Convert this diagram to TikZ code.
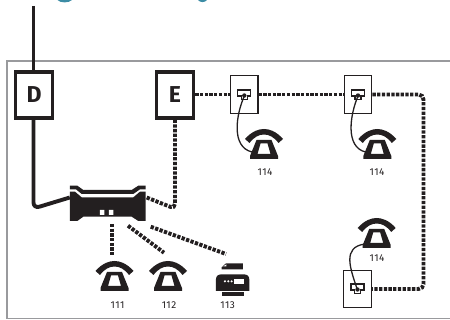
\documentclass[tikz,border=0pt]{standalone}
\usepackage{fontspec}
\setmainfont{Fira Sans}
\definecolor{frameg}{HTML}{999A9D}
\definecolor{ink}{HTML}{231F20}
\definecolor{teal}{HTML}{3C8CA5}
\tikzset{
  boxnode/.style={draw=ink,fill=white,line width=3.2pt,minimum width=37.5pt,minimum height=46pt,inner sep=0pt,font=\bfseries\fontsize{23}{23}\selectfont,text=ink},
  jacknode/.style={draw=ink,fill=white,line width=1.4pt,minimum width=27.5pt,minimum height=37.5pt,inner sep=0pt},
  solidline/.style={draw=ink,line width=3.9pt},
  dotline/.style={draw=ink,line width=3.9pt,dash pattern=on 3.3pt off 1.4pt},
  cordline/.style={draw=ink,line width=1.3pt},
  numlabel/.style={font=\fontsize{10}{10}\selectfont\addfontfeatures{LetterSpace=5},text=ink,inner sep=0pt},
  zoomed/.style={shift={(0,160)},x=0.3333pt,y=-0.3333pt}
}
\newcommand{\phoneicon}[3]{%
  \coordinate (#1) at (#2,#3);
  \begin{scope}[shift={(#2,#3)}]
    \fill[ink] (-19,10) .. controls (-12,2) and (-5,0) .. (0,0) .. controls (5,0) and (12,2) .. (19,10) -- (14.5,14) .. controls (10,8) and (5,5.5) .. (0,5.5) .. controls (-5,5.5) and (-10,8) .. (-14.5,14) -- cycle;
    \fill[ink,even odd rule] (-7.5,11) -- (7.5,11) -- (14,27) -- (14,30) -- (-14,30) -- (-14,27) -- cycle
      (-3.5,14.5) -- (3.5,14.5) -- (6.5,25) -- (-6.5,25) -- cycle;
  \end{scope}}
\newcommand{\socketicon}[2]{%
  \begin{scope}[shift={(#1,#2)}]
    \draw[ink,line width=1.1pt,fill=white] (-6.5,-4.5) -- (6.5,-4.5) -- (6.5,1.5) -- (3,1.5) -- (3,5) -- (-3,5) -- (-3,1.5) -- (-6.5,1.5) -- cycle;
    \fill[ink] (0,1) circle (2.2);
  \end{scope}}
\begin{document}
\begin{tikzpicture}[x=1pt,y=-1pt]
\useasboundingbox (0,0) rectangle (450,320);
\clip (0,0) rectangle (450,320);
% clipped heading remnants
\fill[teal] (57.5,0) .. controls (60,3.2) and (69,3.2) .. (72,0) -- cycle;
\fill[teal] (198,0) .. controls (200,2.8) and (205,2.8) .. (207,0) -- cycle;
% frame
\draw[frameg,line width=1.8pt] (455,61) -- (7,61) -- (7,318.5) -- (455,318.5);
% nodes
\node[boxnode] (D) at (34,95) {D};
\node[boxnode] (E) at (175,95) {E};
\node[jacknode] (J1) at (244.2,94.5) {};
\node[jacknode] (J2) at (358,94.5) {};
\node[jacknode] (J3) at (357.5,289) {};
\node[inner sep=0pt,minimum width=76pt,minimum height=36pt] (modem) at (108,203) {};
\coordinate (top) at (33.5,6);
\coordinate (m1) at (112,224);
\coordinate (p1) at (112,256);
\coordinate (m2) at (128,225.7);
\coordinate (p2) at (164,252.7);
\coordinate (m3) at (150.7,226.7);
\coordinate (fax) at (226,254);
% solid lines
\draw[solidline] (top) -- (top |- D.north);
\draw[solidline,rounded corners=6pt] (D.south -| top) -- (33.5,208.5) -- ([yshift=5.5pt]modem.west);
% dotted lines
\draw[dotline,rounded corners=5pt] (E.south) -- (175,208.7) -- ([yshift=5.7pt]modem.east);
\draw[dotline] (E.east |- J1.west) -- (J1.west);
\draw[dotline] (J1.east) -- (J2.west);
\draw[dotline,rounded corners=5pt] (J2.east) -- (423.5,94.5) -- (423.5,289) -- (J3.east);
\draw[dotline] (m1) -- (p1);
\draw[dotline] (m2) -- (p2);
\draw[dotline] (m3) -- (fax);
% modem
\begin{scope}[zoomed]
  \fill[ink] (210,77) -- (232,77) -- (250,90) -- (395,90) -- (415,77) -- (437,77) -- (437,88) -- (420,88) -- (400,102) -- (245,102) -- (228,88) -- (210,88) -- cycle;
  \fill[ink] (210,95) -- (225,95) -- (245,112) -- (400,112) -- (420,95) -- (437,95) -- (437,183) -- (415,183) -- (395,170) -- (250,170) -- (232,183) -- (210,183) -- cycle;
  \fill[white] (300,150) rectangle (313,165) (327,150) rectangle (340,165);
\end{scope}
% fax
\begin{scope}[zoomed]
  \fill[ink] (665,322) -- (678,310) -- (729,310) -- (729,328) -- (665,328) -- cycle;
  \fill[white] (670,319) -- (679,319) -- (679,313) -- cycle;
  \fill[ink] (648,393) -- (648,358) .. controls (648,348) and (655,343) .. (665,343) -- (731,343) .. controls (741,343) and (748,348) .. (748,358) -- (748,393) -- cycle;
  \fill[white] (701,358) rectangle (733,372);
  \fill[white] (675,364) circle (3.5) (685,364) circle (3.5) (695,364) circle (3.5);
  \fill[ink] (666,397) rectangle (732,407);
\end{scope}
% phones and sockets
\phoneicon{P111}{114.5}{261}
\phoneicon{P112}{168}{261}
\phoneicon{P114a}{264}{129}
\phoneicon{P114b}{377.3}{129}
\phoneicon{P114c}{376.7}{218}
\socketicon{244.3}{94.5}
\socketicon{358}{94.5}
\socketicon{357.5}{288.5}
\coordinate (C1) at (244.3,96);
\coordinate (C2) at (358,96);
\coordinate (C3) at (357.5,290);
\coordinate (H1) at (252,152);
\coordinate (H2) at (365.5,152);
\coordinate (H3) at (365,244);
\draw[cordline] (C1) .. controls (236,115) and (231,147) .. (H1);
\draw[cordline] (C2) .. controls (350,115) and (345,147) .. (H2);
\draw[cordline] (C3) .. controls (350,268) and (342,247) .. (H3);
% labels
\node[numlabel] (L111) at (117.5,305) {111};
\node[numlabel] (L112) at (169,305) {112};
\node[numlabel] (L113) at (227.7,305) {113};
\node[numlabel] (L114a) at (265,172) {114};
\node[numlabel] (L114b) at (377,172) {114};
\node[numlabel] (L114c) at (377,258) {114};
\end{tikzpicture}
\end{document}
